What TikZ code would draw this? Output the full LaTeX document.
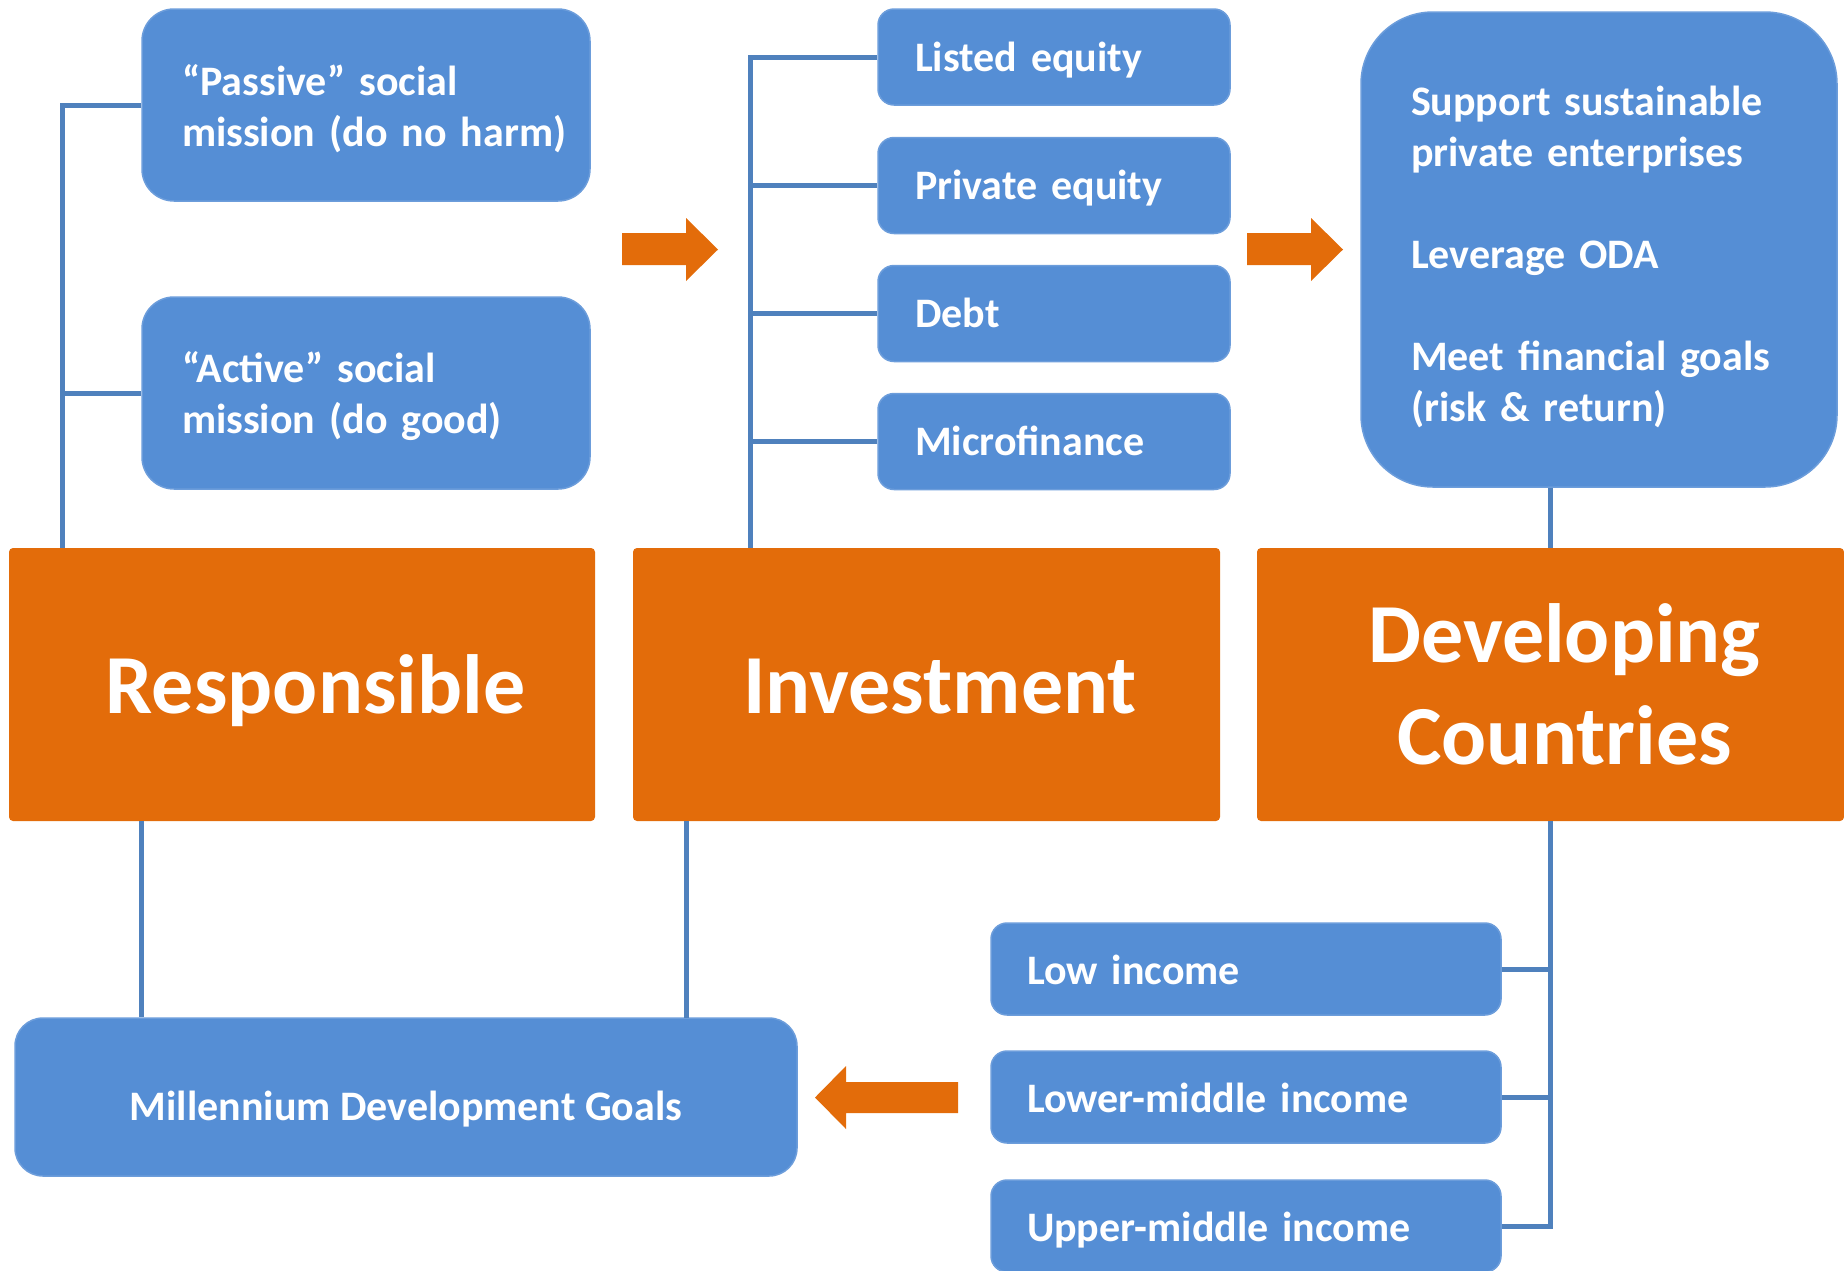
\documentclass[tikz,border=0pt]{standalone}
\usepackage{fontspec}
\setmainfont{Carlito}
\usepackage{tikz}
\usetikzlibrary{calc}

\definecolor{boxblue}{HTML}{558ED5}
\definecolor{boxedge}{HTML}{6C9DDB}
\definecolor{lineblue}{HTML}{4F81BD}
\definecolor{orangefill}{HTML}{E36C0A}

\begin{document}
\begin{tikzpicture}[x=1pt,y=-1pt,
    bluebox/.style={rounded corners=#1,fill=boxblue,draw=boxedge,line width=1.5pt,text=white,
      font=\bfseries\fontsize{42}{51}\selectfont,align=left,inner ysep=0pt},
    missionbox/.style={bluebox=32pt,minimum height=192pt,text width=368pt,inner xsep=40pt,text height=38pt},
    fundbox/.style={bluebox=16pt,minimum height=96pt,text width=278pt,inner xsep=37pt,text height=32pt,text depth=4pt},
    incomebox/.style={bluebox=16pt,minimum height=92pt,text width=438pt,inner xsep=36pt,text height=34pt,text depth=3pt},
    mainbox/.style={fill=orangefill,rounded corners=4pt,text=white,inner sep=0pt,
      font=\bfseries\fontsize{84}{102}\selectfont,align=center,minimum width=587pt,minimum height=273pt},
    link/.style={draw=lineblue,line width=5pt}]
\useasboundingbox (0,0) rectangle (1844,1270);

% the three words
\node[mainbox,minimum width=586pt,text height=60pt,text depth=3pt] (resp) at (302,684.5) {\hspace*{27pt}Responsible};
\node[mainbox,text height=60pt,text depth=3pt] (invest) at (926.5,684.5) {\hspace*{27pt}Investment};
\node[mainbox] (devel) at (1550.5,684.5) {\hspace*{28pt}Developing\\\hspace*{28pt}Countries};

% responsible
\node[missionbox] (passive) at (366,105) {“Passive” social\\mission~(do~no~harm)};
\node[missionbox] (active) at (366,393) {“Active” social\\mission~(do~good)};
\coordinate (rjoin) at (62,548);
\draw[link] (passive.west) -| (rjoin);
\draw[link] (active.west) -- (active.west -| rjoin);

% investment
\node[fundbox] (listed) at (1054,57) {Listed equity};
\node[fundbox] (private) at (1054,185.5) {Private equity};
\node[fundbox] (debt) at (1054,313.5) {Debt};
\node[fundbox] (micro) at (1054,441.5) {Microfinance};
\coordinate (ijoin) at (750,548);
\draw[link] (listed.west) -| (ijoin);
\foreach \b in {private,debt,micro}
  \draw[link] (\b.west) -- (\b.west -| ijoin);

% developing countries
\node[bluebox=72pt,minimum height=475pt,text width=376pt,inner xsep=50pt,text height=45pt] (aims) at (1599,249.5)
  {Support sustainable\\private enterprises\\[51pt]Leverage ODA\\[51pt]Meet financial goals\\(risk \& return)};
\draw[link] (devel.north) -- (devel.north |- aims.south);

\node[incomebox] (low) at (1246,969) {Low income};
\node[incomebox] (lowmid) at (1246,1097) {Lower-middle income};
\node[incomebox] (uppmid) at (1246,1226) {Upper-middle income};
\draw[link] (devel.south) |- (uppmid.east);
\foreach \b in {low,lowmid}
  \draw[link] (\b.east) -- (\b.east -| devel.south);

% goals
\node[bluebox=28pt,minimum width=782pt,minimum height=158pt,align=center,text height=50pt,text depth=4pt] (mdg) at (406,1097)
  {Millennium Development Goals};
\draw[link] (resp.south -| passive.west) -- (mdg.north -| passive.west);
\coordinate (mjoin) at (686,1018);
\draw[link] (invest.south -| mjoin) -- (mjoin);

% block arrows
\foreach \ax in {622,1247}
  \fill[orangefill] (\ax,233) -- ++(64,0) -- ++(0,-15) -- ++(32,31.5) -- ++(-32,31.5) -- ++(0,-16) -- ++(-64,0) -- cycle;
\fill[orangefill] (958,1082) -- ++(-112,0) -- ++(0,-16) -- ++(-31,31.5) -- ++(31,31.5) -- ++(0,-16) -- ++(112,0) -- cycle;
\end{tikzpicture}
\end{document}
